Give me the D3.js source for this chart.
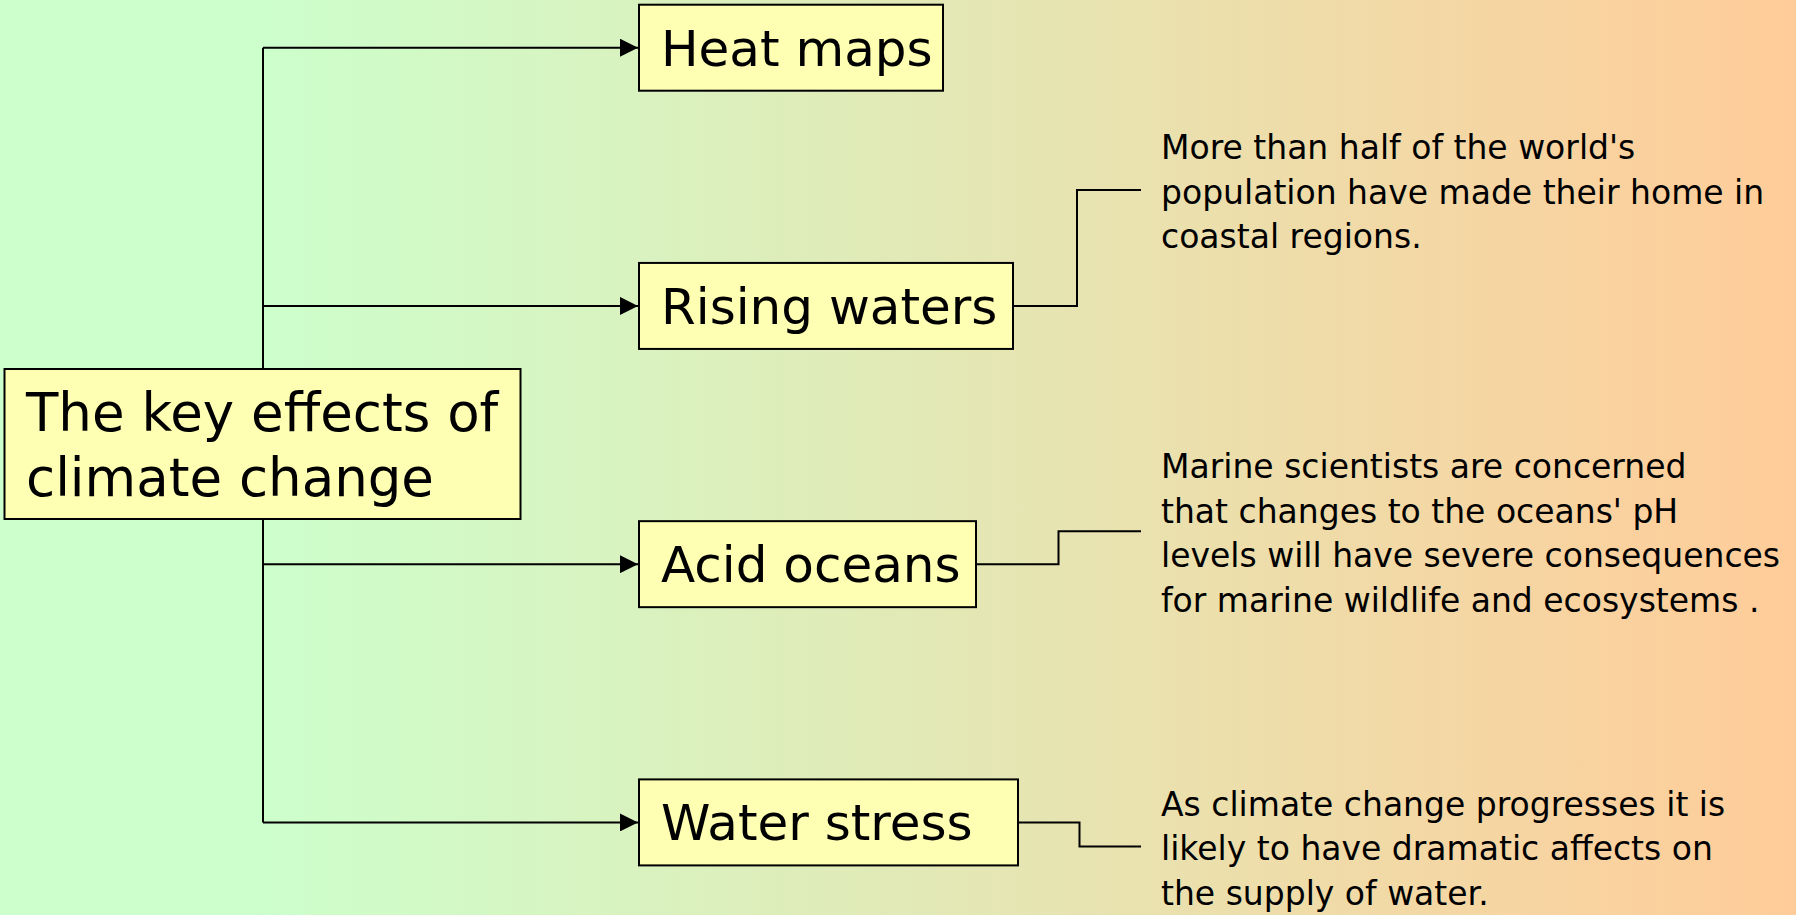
<!DOCTYPE html>
<html>
<head>
<meta charset="utf-8">
<script src="https://cdn.jsdelivr.net/npm/d3@7"></script>
<style>
  html, body { margin: 0; padding: 0; overflow: hidden; }
  svg { display: block; }
  text { font-family: "Comic Sans MS", "DejaVu Sans", sans-serif; fill: #000; }
</style>
</head>
<body>
<div id="chart"></div>
<script>
const rootLines = ['The key effects of', 'climate change'];
const branches = ['Heat maps', 'Rising waters', 'Acid oceans', 'Water stress'];
const noteLines = [
  [],
  ['More than half of the world\'s', 'population have made their home in', 'coastal regions.'],
  ['Marine scientists are concerned', 'that changes to the oceans\' pH', 'levels will have severe consequences', 'for marine wildlife and ecosystems .'],
  ['As climate change progresses it is', 'likely to have dramatic affects on', 'the supply of water.']
];
// where each note block sits, relative to its branch arrow
const noteShift = [0, -116, -33, 24];
// box widths as drawn in the original slide
const boxW = [304, 374, 337, 379];

const width = 1796;
const height = 915;
const trunkX = 263;
const boxX = 639;
const boxH = 86;
const labelSize = 50;
const noteSize = 33;
const noteLead = 44.5;
const noteX = 1161;
const noteStub = 1141;

const svg = d3.select('#chart').append('svg')
  .attr('width', width)
  .attr('height', height);

const grad = svg.append('defs').append('linearGradient')
  .attr('id', 'bg')
  .attr('x1', '0%').attr('x2', '100%')
  .attr('y1', '0%').attr('y2', '0%');
grad.append('stop').attr('offset', '0%').attr('stop-color', '#ccffcc');
grad.append('stop').attr('offset', '14%').attr('stop-color', '#ccffcc');
grad.append('stop').attr('offset', '100%').attr('stop-color', '#ffcc99');

svg.select('defs').append('marker')
  .attr('id', 'arrow')
  .attr('viewBox', '0 0 10 10')
  .attr('refX', 10).attr('refY', 5)
  .attr('markerWidth', 9).attr('markerHeight', 9)
  .attr('markerUnits', 'strokeWidth')
  .attr('orient', 'auto')
  .append('path')
    .attr('d', 'M0,0L10,5L0,10Z')
    .attr('fill', '#000');

svg.append('rect')
  .attr('width', width)
  .attr('height', height)
  .attr('fill', 'url(#bg)');

const y = d3.scalePoint()
  .domain(branches)
  .range([47.7, 822.4]);

// trunk + arrows
const links = svg.append('g').attr('class', 'links')
  .attr('fill', 'none')
  .attr('stroke', '#000')
  .attr('stroke-width', 2);

links.append('line')
  .attr('x1', trunkX).attr('x2', trunkX)
  .attr('y1', y(branches[0])).attr('y2', y(branches[branches.length - 1]));

links.selectAll('line.branch')
  .data(branches)
  .enter().append('line')
    .attr('class', 'branch')
    .attr('x1', trunkX)
    .attr('x2', boxX - 1)
    .attr('y1', (d) => y(d))
    .attr('y2', (d) => y(d))
    .attr('marker-end', 'url(#arrow)');

// branch boxes
const nodes = svg.append('g').attr('class', 'nodes')
  .selectAll('g')
  .data(branches)
  .enter().append('g')
    .attr('transform', (d) => `translate(${boxX},${y(d) - boxH / 2})`);

nodes.append('rect')
  .attr('width', (d, i) => boxW[i])
  .attr('height', boxH)
  .attr('fill', '#ffffb3')
  .attr('stroke', '#000')
  .attr('stroke-width', 2);

nodes.append('text')
  .attr('x', 22)
  .attr('y', boxH / 2)
  .attr('dy', '0.36em')
  .attr('font-size', labelSize)
  .text((d) => d);

// notes + elbow connectors
const notes = svg.append('g').attr('class', 'notes');
branches.forEach((b, i) => {
  const lines = noteLines[i];
  if (!lines.length) {
    return;
  }
  const cy = y(b) + noteShift[i];
  const x0 = boxX + boxW[i];
  const mid = (x0 + noteStub) / 2;

  links.append('path')
    .attr('d', d3.line()([[x0, y(b)], [mid, y(b)], [mid, cy], [noteStub, cy]]));

  const firstBase = cy - (lines.length - 1) / 2 * noteLead + noteSize * 0.42;
  notes.append('text')
    .attr('font-size', noteSize)
    .selectAll('tspan')
    .data(lines)
    .enter().append('tspan')
      .attr('x', noteX)
      .attr('y', (d, k) => firstBase + k * noteLead)
      .text((d) => d);
});

// root box drawn last so it sits over the trunk
const root = svg.append('g').attr('class', 'root');
root.append('rect')
  .attr('x', 4.5).attr('y', 369)
  .attr('width', 516).attr('height', 150)
  .attr('fill', '#ffffb3')
  .attr('stroke', '#000')
  .attr('stroke-width', 2);

root.append('text')
  .attr('font-size', 53)
  .selectAll('tspan')
  .data(rootLines)
  .enter().append('tspan')
    .attr('x', 26)
    .attr('y', (d, k) => 431 + k * 65)
    .text((d) => d);
</script>
</body>
</html>
